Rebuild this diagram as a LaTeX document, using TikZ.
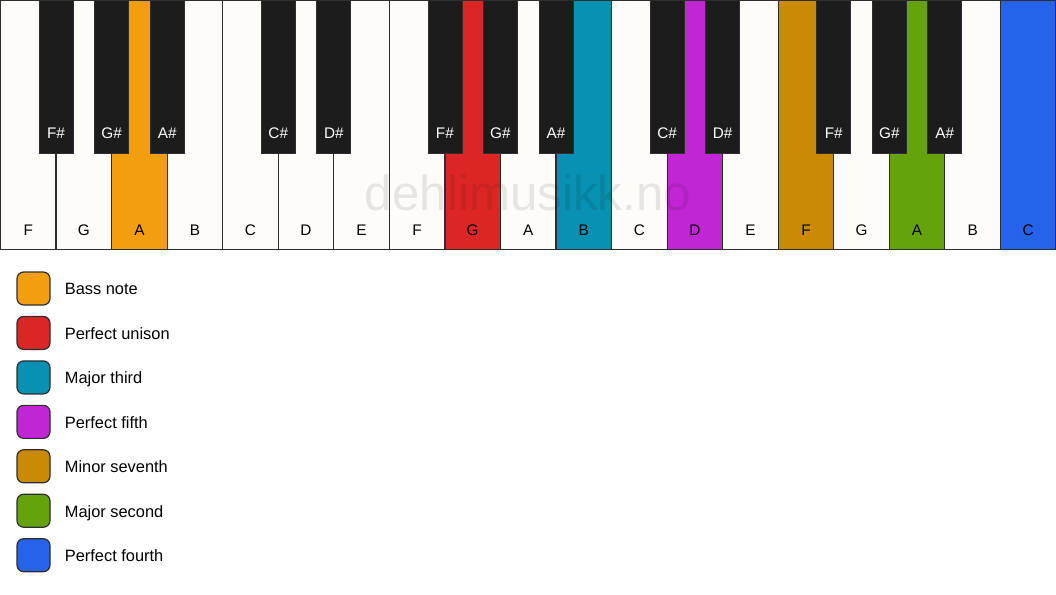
\documentclass[tikz,border=0pt]{standalone}
\usepackage{fontspec}
\setmainfont{Liberation Sans}
\usetikzlibrary{calc,positioning}
\definecolor{ivory}{HTML}{FDFCF8}
\definecolor{ebony}{HTML}{1C1C1C}
\definecolor{keyline}{HTML}{2E2E2E}
\definecolor{bassnote}{HTML}{F39E0F}
\definecolor{unison}{HTML}{DC2626}
\definecolor{majthird}{HTML}{0891B2}
\definecolor{perffifth}{HTML}{C026D3}
\definecolor{minseventh}{HTML}{CA8A04}
\definecolor{majsecond}{HTML}{65A30D}
\definecolor{perffourth}{HTML}{2563EB}

\begin{document}
\begin{tikzpicture}[x=0.75pt,y=-0.75pt,
  whitekey/.style={draw=keyline,line width=0.9pt,rectangle,inner sep=0pt,outer sep=0pt,
    minimum width=41.66pt,minimum height=186.75pt,anchor=north west},
  blackkey/.style={draw=keyline,line width=0.6pt,fill=ebony,rectangle,inner sep=0pt,outer sep=0pt,
    minimum width=25.5pt,minimum height=114.75pt,anchor=north},
  keytext/.style={font=\fontsize{11.5}{13}\selectfont},
  legendbox/.style={draw=keyline,line width=0.9pt,rounded corners=5pt,inner sep=0pt,
    minimum size=24.75pt},
  legendtext/.style={font=\fontsize{12.3}{14}\selectfont,inner sep=0pt,anchor=west,
    text height=9.6pt,text depth=0pt}]
\useasboundingbox (0,0) rectangle (1056,594);
% white keys
\foreach \n/\c [count=\i from 0] in {F/ivory,G/ivory,A/bassnote,B/ivory,C/ivory,D/ivory,E/ivory,
  F/ivory,G/unison,A/ivory,B/majthird,C/ivory,D/perffifth,E/ivory,
  F/minseventh,G/ivory,A/majsecond,B/ivory,C/perffourth} {
  \node[whitekey,fill=\c] (w\i) at (\i*55.55+0.5,0.5) {};
  \node[keytext] (wl\i) at ($(w\i.south)+(0,-19.5)$) {\n};
}
% watermark
\node[font=\fontsize{37}{40}\selectfont,text=black,text opacity=0.09] (wm) at (528,193) {dehlimusikk.no};
% black keys
\foreach \k/\n in {1/F\#,2/G\#,3/A\#,5/C\#,6/D\#,8/F\#,9/G\#,10/A\#,12/C\#,13/D\#,15/F\#,16/G\#,17/A\#} {
  \node[blackkey] (b\k) at (\k*55.55+0.5,0.5) {};
  \node[keytext,text=white] (bl\k) at ($(b\k.south)+(0,-20)$) {\n};
}
% legend
\foreach \c/\t [count=\j from 0] in {bassnote/Bass note,unison/Perfect unison,majthird/Major third,
  perffifth/Perfect fifth,minseventh/Minor seventh,majsecond/Major second,perffourth/Perfect fourth} {
  \node[legendbox,fill=\c] (lb\j) at (33.5,288.5+\j*44.45) {};
  \node[legendtext,right=10.5pt of lb\j] (lt\j) {\t};
}
\end{tikzpicture}
\end{document}
